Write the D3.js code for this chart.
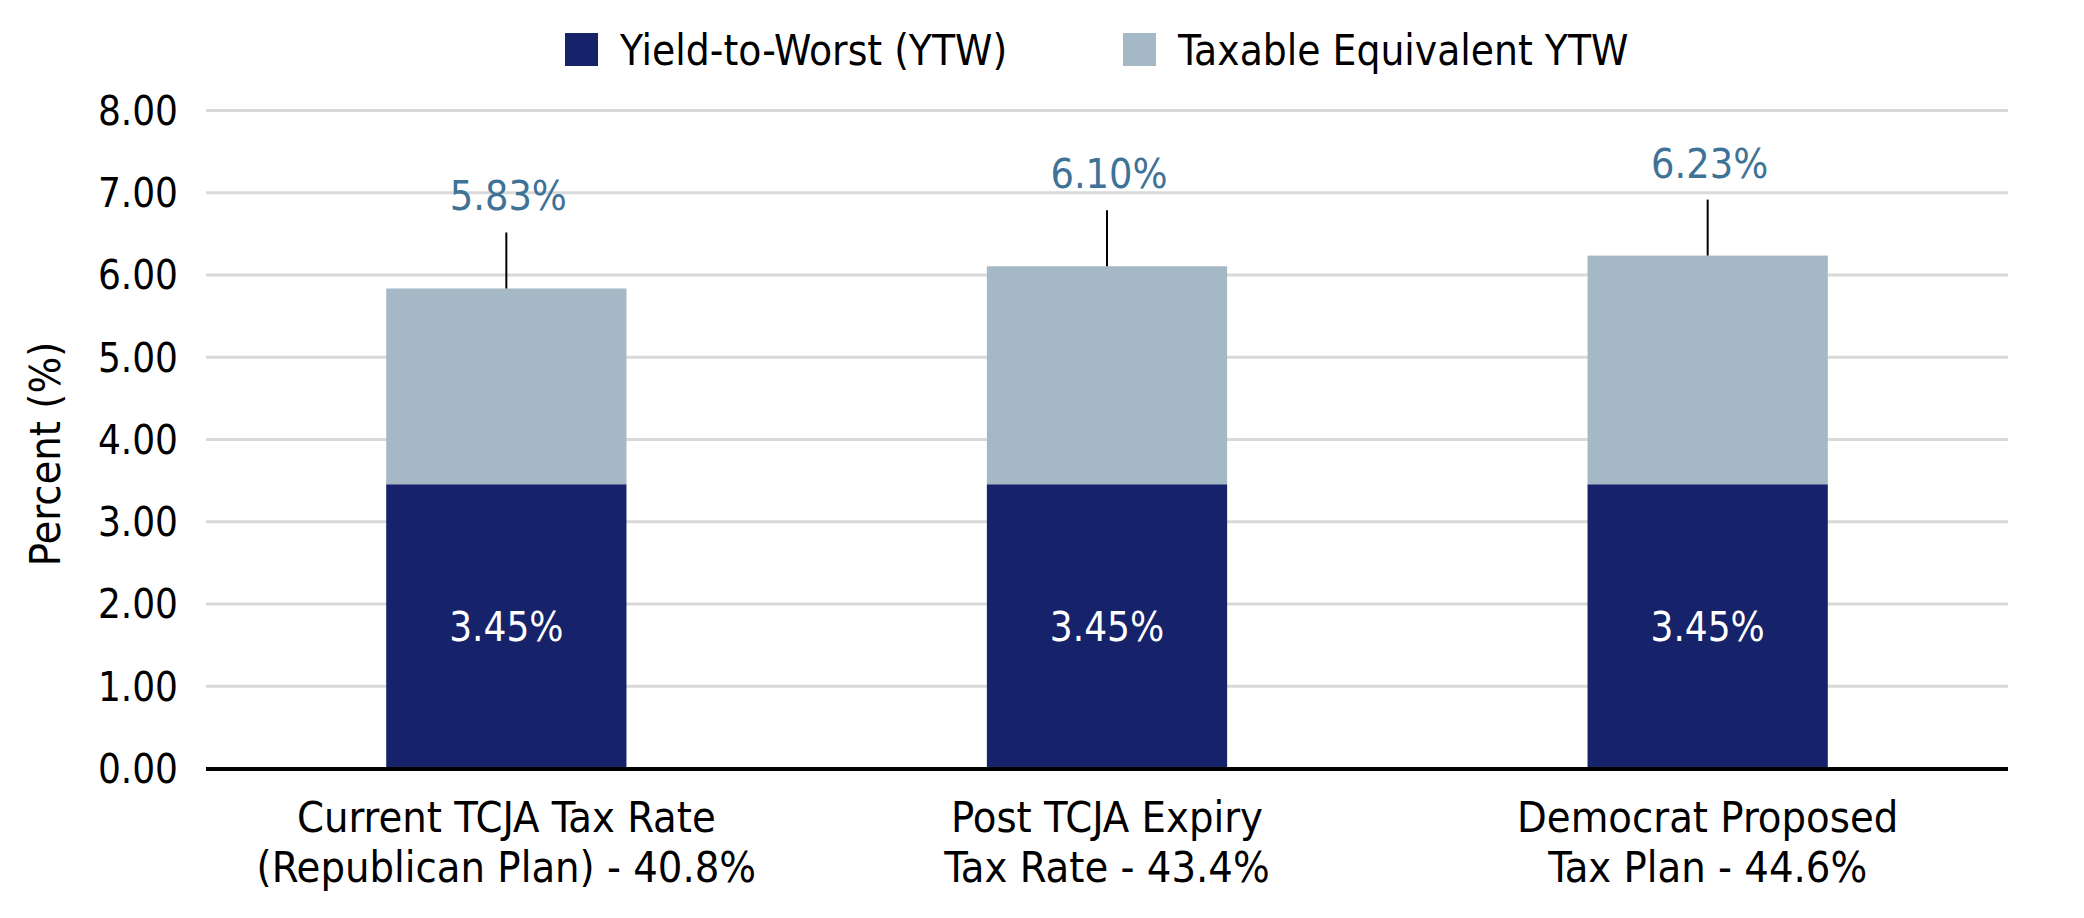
<!DOCTYPE html>
<html>
<head>
<meta charset="utf-8">
<script src="https://d3js.org/d3.v7.min.js"></script>
<style>
  html, body { margin: 0; padding: 0; background: #fff; overflow: hidden; }
  svg { display: block; }
  svg text { font-family: "DejaVu Sans Condensed", "Liberation Sans Narrow", sans-serif; }
  .tick line { stroke: #d9d9d9; stroke-width: 3; }
  .tick text { font-size: 40px; fill: #000; }
</style>
</head>
<body>
<svg id="chart" width="2084" height="918"></svg>
<script>
// chart values
var categories = ["Current TCJA Tax Rate (Republican Plan) - 40.8%", "Post TCJA Expiry Tax Rate - 43.4%", "Democrat Proposed Tax Plan - 44.6%"];
var categoryLines = [
    ["Current TCJA Tax Rate", "(Republican Plan) - 40.8%"],
    ["Post TCJA Expiry", "Tax Rate - 43.4%"],
    ["Democrat Proposed", "Tax Plan - 44.6%"]
];
var ytw = [3.45, 3.45, 3.45];
var taxableYtw = [5.83, 6.10, 6.23];
var seriesNames = ["Yield-to-Worst (YTW)", "Taxable Equivalent YTW"];
var yTicks = [0, 1, 2, 3, 4, 5, 6, 7, 8];

var colors = ["#16226a", "#a5b8c6"];
var labelBlue = "#3e7296";

var svg = d3.select("#chart");
var width = +svg.attr("width"),
    height = +svg.attr("height"),
    margin = {top: 110, right: 76, bottom: 150, left: 206},
    innerWidth = width - margin.left - margin.right,
    innerHeight = height - margin.top - margin.bottom;

var g = svg.append("g")
    .attr("transform", "translate(" + margin.left + "," + margin.top + ")");

var x = d3.scaleBand()
    .domain(categories)
    .range([0, innerWidth])
    .paddingInner(0.6)
    .paddingOuter(0.3);

var y = d3.scaleLinear()
    .domain([0, 8])
    .range([innerHeight, 0]);

// gridlines + tick labels
var yAxis = g.append("g")
    .call(d3.axisLeft(y)
        .tickValues(yTicks)
        .tickFormat(d3.format(".2f"))
        .tickSize(-innerWidth)
        .tickPadding(28));
yAxis.select(".domain").remove();
yAxis.selectAll(".tick text").attr("dy", "0.36em");

var rows = categories.map(function(c, i) {
    return {cat: c, lines: categoryLines[i], ytw: ytw[i], tax: taxableYtw[i]};
});

// dark segment
g.selectAll(".bar-ytw")
    .data(rows)
    .enter().append("rect")
    .attr("class", "bar-ytw")
    .attr("x", function(d) { return x(d.cat); })
    .attr("width", x.bandwidth())
    .attr("y", function(d) { return y(d.ytw); })
    .attr("height", function(d) { return y(0) - y(d.ytw); })
    .attr("fill", colors[0]);

// light segment on top
g.selectAll(".bar-tax")
    .data(rows)
    .enter().append("rect")
    .attr("class", "bar-tax")
    .attr("x", function(d) { return x(d.cat); })
    .attr("width", x.bandwidth())
    .attr("y", function(d) { return y(d.tax); })
    .attr("height", function(d) { return y(d.ytw) - y(d.tax); })
    .attr("fill", colors[1]);

// baseline
g.append("line")
    .attr("x1", 0).attr("x2", innerWidth)
    .attr("y1", y(0) + 1).attr("y2", y(0) + 1)
    .attr("stroke", "#000")
    .attr("stroke-width", 4);

// labels inside dark bars
g.selectAll(".lbl-ytw")
    .data(rows)
    .enter().append("text")
    .attr("class", "lbl-ytw")
    .attr("x", function(d) { return x(d.cat) + x.bandwidth() / 2; })
    .attr("y", function(d) { return y(d.ytw / 2); })
    .attr("dy", "0.36em")
    .attr("text-anchor", "middle")
    .attr("fill", "#fff")
    .style("font-size", "40px")
    .text(function(d) { return d.ytw.toFixed(2) + "%"; });

// leader lines
g.selectAll(".leader")
    .data(rows)
    .enter().append("line")
    .attr("class", "leader")
    .attr("x1", function(d) { return x(d.cat) + x.bandwidth() / 2; })
    .attr("x2", function(d) { return x(d.cat) + x.bandwidth() / 2; })
    .attr("y1", function(d) { return y(d.tax); })
    .attr("y2", function(d) { return y(d.tax) - 56; })
    .attr("stroke", "#000")
    .attr("stroke-width", 2);

// total labels
g.selectAll(".lbl-tax")
    .data(rows)
    .enter().append("text")
    .attr("class", "lbl-tax")
    .attr("x", function(d) { return x(d.cat) + x.bandwidth() / 2 + 2; })
    .attr("y", function(d) { return y(d.tax) - 78; })
    .attr("text-anchor", "middle")
    .attr("fill", labelBlue)
    .style("font-size", "41px")
    .text(function(d) { return d.tax.toFixed(2) + "%"; });

// category labels (two lines)
var catLabel = g.selectAll(".cat")
    .data(rows)
    .enter().append("text")
    .attr("class", "cat")
    .attr("text-anchor", "middle")
    .attr("fill", "#000")
    .style("font-size", "43px");
catLabel.selectAll("tspan")
    .data(function(d) { return d.lines.map(function(l) { return {l: l, c: d.cat}; }); })
    .enter().append("tspan")
    .attr("x", function(d) { return x(d.c) + x.bandwidth() / 2; })
    .attr("y", function(d, i) { return innerHeight + 64 + i * 50; })
    .text(function(d) { return d.l; });

// y axis title
svg.append("text")
    .attr("transform", "translate(60,454) rotate(-90)")
    .attr("text-anchor", "middle")
    .attr("fill", "#000")
    .style("font-size", "43px")
    .text("Percent (%)");

// legend
var legendX = [565, 1123];
var legend = svg.selectAll(".legend")
    .data(seriesNames)
    .enter().append("g")
    .attr("class", "legend")
    .attr("transform", function(d, i) { return "translate(" + legendX[i] + ",33)"; });
legend.append("rect")
    .attr("width", 33).attr("height", 33)
    .attr("fill", function(d, i) { return colors[i]; });
legend.append("text")
    .attr("x", 55)
    .attr("y", 32)
    .attr("fill", "#000")
    .style("font-size", "42px")
    .text(function(d) { return d; });
</script>
</body>
</html>
